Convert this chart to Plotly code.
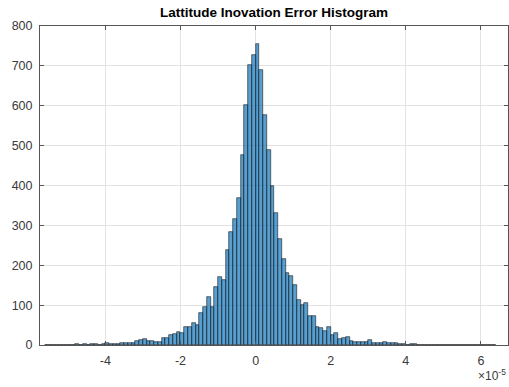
import numpy as np
import plotly.graph_objects as go

# Histogram data (x in units of 1e-5), bins of width 0.1 starting at -5.6
BIN_START = -5.6
BIN_WIDTH = 0.1
counts = (
    [0, 1, 0, 1, 1, 1, 0, 1, 2, 1, 2, 1, 3, 2, 1, 2, 4, 2, 3, 2]           # -5.6 .. -3.6
    + [4, 6, 5, 4, 10, 13, 14, 10, 10, 8, 8, 17, 18, 25, 28, 33, 29, 44, 44, 56, 50]  # -3.6 .. -1.5
    + [81, 96, 121, 96, 145, 170, 163]                                      # -1.5 .. -0.8
    + [238, 284, 316, 369, 476, 601, 702, 727, 756, 689, 576, 489, 398, 330, 266, 215]  # -0.8 .. 0.8
    + [181, 173, 150, 113, 100, 106, 73, 73, 46, 42, 36, 46, 25, 29, 14, 17, 21, 11, 8, 8]  # 0.8 .. 2.8
    + [8, 7, 12, 6, 6, 4, 7, 6, 6, 6, 2, 2]                                 # 2.8 .. 4.0
    + [1, 2, 3, 1, 1, 0, 1, 1, 0, 1, 1, 0, 1, 0, 1, 0, 0, 1, 0, 1, 0, 0, 1, 0]  # 4.0 .. 6.4
)
x_tick_vals = [-4, -2, 0, 2, 4, 6]
x_tick_text = ["-4", "-2", "0", "2", "4", "6"]
y_tick_vals = [0, 100, 200, 300, 400, 500, 600, 700, 800]
title_text = "Lattitude Inovation Error Histogram"

centers = BIN_START + BIN_WIDTH * (np.arange(len(counts)) + 0.5)

FONT = "Liberation Sans, Arial, Helvetica, sans-serif"
TXT = "#3a3a3a"

fig = go.Figure(
    go.Bar(
        x=centers,
        y=counts,
        width=BIN_WIDTH,
        marker=dict(color="rgba(0,110,185,0.66)", line=dict(color="#1a1a1a", width=0.6)),
        hoverinfo="x+y",
    )
)

axis_common = dict(
    showgrid=True,
    gridcolor="#e3e3e3",
    gridwidth=1,
    zeroline=False,
    showline=True,
    linecolor="#555555",
    linewidth=1,
    mirror="ticks",
    ticks="inside",
    ticklen=4,
    tickcolor="#555555",
    tickfont=dict(family=FONT, size=12.5, color=TXT),
)

fig.update_layout(
    width=509,
    height=387,
    margin=dict(l=40, r=1, t=26, b=42),
    paper_bgcolor="white",
    plot_bgcolor="white",
    bargap=0,
    showlegend=False,
    title=dict(
        text="<b>" + title_text + "</b>",
        x=0.5,
        xref="paper",
        xanchor="center",
        y=1 - 12 / 387,
        yref="container",
        yanchor="middle",
        font=dict(family=FONT, size=13.5, color="#000000"),
    ),
    xaxis=dict(
        range=[-5.74, 6.72],
        tickvals=x_tick_vals,
        ticktext=x_tick_text,
        ticklabelstandoff=4,
        **axis_common,
    ),
    yaxis=dict(
        range=[0, 800],
        tickvals=y_tick_vals,
        ticklabelstandoff=4,
        **axis_common,
    ),
    annotations=[
        dict(
            text="×10<sup>-5</sup>",
            xref="paper",
            yref="paper",
            x=1.0,
            y=-0.125,
            xanchor="right",
            yanchor="bottom",
            showarrow=False,
            font=dict(family=FONT, size=12, color=TXT),
        )
    ],
)

fig.write_html("out.html")
